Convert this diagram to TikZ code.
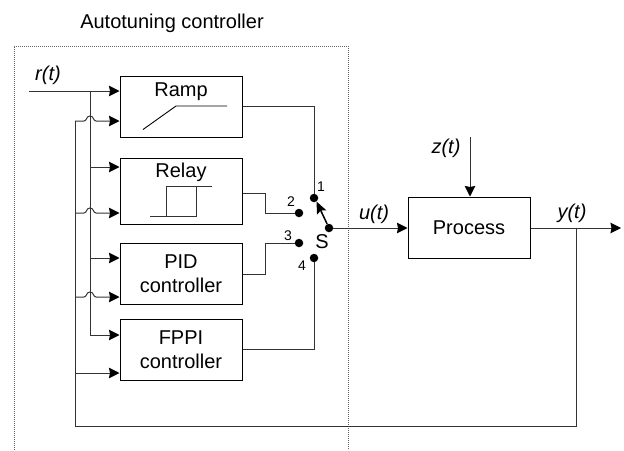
\documentclass[tikz,border=0pt]{standalone}
\usepackage{fontspec}
\setmainfont{Liberation Sans}
\usetikzlibrary{arrows.meta,positioning,calc}
\definecolor{Wire}{HTML}{333333}
\definecolor{Frame}{HTML}{666666}
\tikzset{
  every picture/.append style={font=\fontsize{20}{24}\selectfont, >=Stealth},
  blk/.style={rectangle, draw=black, line width=1pt, align=center, inner sep=0pt},
  lbl/.style={inner sep=0pt, align=center},
  wire/.style={draw=Wire, line width=1pt},
  flow/.style={wire, -{Stealth[length=10.5pt,width=10.5pt,inset=1pt,color=black,fill=black]}},
  sig/.style={font=\fontsize{20}{24}\selectfont\itshape, inner sep=0pt},
  num/.style={font=\fontsize{14}{16}\selectfont, inner sep=0pt},
  pin/.style={circle, fill=black, inner sep=0pt, minimum size=8.5pt},
}
\begin{document}
\begin{tikzpicture}[x=1pt,y=-1pt]
\useasboundingbox (0,0) rectangle (624,450);

% ======================= outer frame, open at the bottom ==========================
\node[lbl] (title) at (172,23) {Autotuning controller};
\coordinate (fa) at (14,450); \coordinate (fb) at (14,46);
\coordinate (fc) at (348,46); \coordinate (fd) at (348,450);
\draw[draw=Frame, line width=1pt, dash pattern=on 1pt off 1pt] (fa) -- (fb) -- (fc) -- (fd);

% ======================= controller blocks ========================================
\node[blk, minimum width=122pt, minimum height=61pt] (ramp) at (181,106.5) {};
\node[blk, minimum width=122pt, minimum height=66pt] (relay) at (181,191) {};
\node[blk, minimum width=122pt, minimum height=61pt] (pid) at (181,273.5) {PID\\controller};
\node[blk, minimum width=122pt, minimum height=61pt] (fppi) at (181,349.5) {FPPI\\controller};
\node[lbl] (tramp) at (181,92) {Ramp};
\node[lbl] (trelay) at (181,172) {Relay};
\node[blk, minimum width=122pt, minimum height=61pt] (process) at (469,227.5) {Process};

% ======================= switch ===================================================
\node[pin] (s1) at (314,198) {};
\node[pin] (s2) at (299,213) {};
\node[pin] (s3) at (299,243) {};
\node[pin] (s4) at (314,258) {};
\node[pin] (s0) at (329,228) {};
\node[num] (n1) at (321,187) {1};
\node[num] (n2) at (291,202) {2};
\node[num] (n3) at (288,236) {3};
\node[num] (n4) at (302,266) {4};
\node[lbl] (sw) at (322,242) {S};

% ======================= signal labels ============================================
\node[sig] (lr) at (48,75) {r(t)};
\node[sig] (lu) at (374,214) {u(t)};
\node[sig] (lz) at (446,148) {z(t)};
\node[sig] (ly) at (572,213) {y(t)};

% ======================= block symbols ============================================
\coordinate (ra) at (143,129.5); \coordinate (rb) at (176,106); \coordinate (rc) at (227,106);
\draw[line width=0.9pt] (ra) -- (rb) -- (rc);
\coordinate (ha) at (150,216); \coordinate (hb) at (196,216); \coordinate (hc) at (196,186);
\coordinate (hd) at (212,186); \coordinate (he) at (166,186); \coordinate (hf) at (166,216);
\draw[wire] (ha) -- (hb) -- (hc) -- (hd);
\draw[wire] (hf) -- (he) -- (hc);

% ======================= input buses ==============================================
\coordinate (rin) at (29,91);
\coordinate (busr) at (90,91); \coordinate (busr2) at (90,335);
\coordinate (busf) at (75,121); \coordinate (busf2) at (75,426);
\coordinate (fbk) at (576,426); \coordinate (yout) at (576,228);
\draw[wire] (yout) -- (fbk) -- (busf2) -- (busf);
\draw[wire] (busr) -- (busr2);

% reference inputs
\draw[flow] (rin) -- (ramp.west |- rin);
\foreach \b/\y in {relay/167,pid/258,fppi/335}
  \draw[flow] (busr |- 0,\y) -- (\b.west |- 0,\y);
% feedback inputs, with a hop over the reference bus
\foreach \b/\y in {ramp/121,relay/213,pid/297}
  \draw[flow] (busf |- 0,\y) -- ($(busr |- 0,\y)+(-6,0)$)
     .. controls ($(busr |- 0,\y)+(-3,0)$) and ($(busr |- 0,\y)+(-4,-5)$) .. ($(busr |- 0,\y)+(0,-5)$)
     .. controls ($(busr |- 0,\y)+(4,-5)$) and ($(busr |- 0,\y)+(3,0)$) .. ($(busr |- 0,\y)+(6,0)$)
     -- (\b.west |- 0,\y);
\draw[flow] (busf |- 0,373) -- (fppi.west |- 0,373);

% ======================= outputs to the switch ====================================
\draw[wire] (ramp.east) -- (s1 |- ramp.east) -- (s1);
\coordinate (kb) at (265,193); \coordinate (kp) at (265,274);
\draw[wire] (relay.east |- kb) -- (kb) -- (kb |- s2) -- (s2);
\draw[wire] (pid.east |- kp) -- (kp) -- (kp |- s3) -- (s3);
\draw[wire] (fppi.east) -- (s4 |- fppi.east) -- (s4);
\draw[line width=1.5pt, -{Stealth[length=12pt,width=10pt,inset=2pt]}] (s0) -- (316.5,201.5);

% ======================= plant ====================================================
\draw[flow] (s0) -- (process.west |- s0);
\coordinate (zin) at (470,137);
\draw[flow] (zin) -- (zin |- process.north);
\coordinate (yend) at (621,228);
\draw[flow] (process.east |- yend) -- (yend);

\end{tikzpicture}
\end{document}
